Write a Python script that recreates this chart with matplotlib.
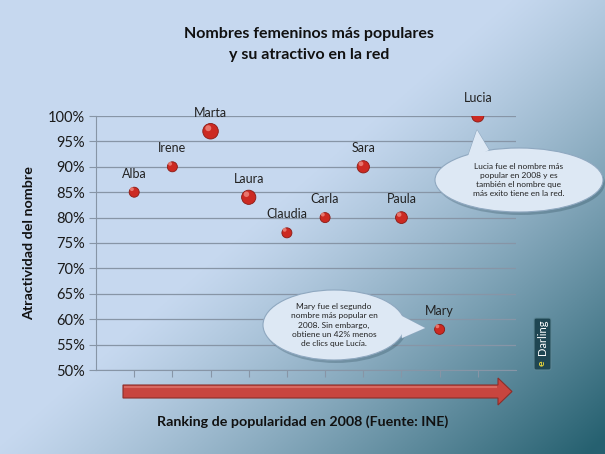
import numpy as np
import matplotlib
matplotlib.use("Agg")
import matplotlib.pyplot as plt
from matplotlib.patches import Ellipse, Polygon, FancyArrow, FancyBboxPatch
from matplotlib.ticker import PercentFormatter

plt.rcParams['font.family'] = ['Lato', 'DejaVu Sans']

# datos: ranking de popularidad 2008 y atractivo en la red
nombres = ['Alba', 'Irene', 'Marta', 'Laura', 'Claudia', 'Carla', 'Sara', 'Paula', 'Mary', 'Lucia']
ranking = [1, 2, 3, 4, 5, 6, 7, 8, 9, 10]
atractivo = [85, 90, 97, 84, 77, 80, 90, 80, 58, 100]
tamano = [52, 52, 125, 105, 52, 52, 78, 72, 52, 75]
yticks = [50, 55, 60, 65, 70, 75, 80, 85, 90, 95, 100]

W, H = 605, 454
fig = plt.figure(figsize=(W / 100, H / 100), dpi=100)

# fondo con degradado (claro arriba-izquierda, verde azulado abajo-derecha)
fondo = fig.add_axes([0, 0, 1, 1], zorder=0)
u, v = np.meshgrid(np.linspace(0, 1, 300), np.linspace(0, 1, 230))
t = np.clip((u * 0.72 + v * 0.62 - 0.6) / 0.72, 0, 1) ** 1.2
c0 = np.array([0.78, 0.85, 0.94])
c1 = np.array([0.15, 0.38, 0.44])
img = c0[None, None, :] * (1 - t[..., None]) + c1[None, None, :] * t[..., None]
fondo.imshow(img, extent=[0, 1, 0, 1], aspect='auto', origin='upper')
fondo.axis('off')

ax = fig.add_axes([96 / W, 1 - 370 / H, 420 / W, 254 / H], zorder=1)
ax.patch.set_alpha(0)
ax.set_xlim(0, 11)
ax.set_ylim(50, 100)
ax.set_yticks(yticks)
ax.yaxis.set_major_formatter(PercentFormatter(decimals=0))
ax.set_xticks(ranking)
ax.set_xticklabels([])
ax.grid(axis='y', color='#8795a6', lw=0.9)
ax.set_axisbelow(True)
for s in ['top', 'right']:
    ax.spines[s].set_visible(False)
for s in ['left', 'bottom']:
    ax.spines[s].set_color('#8795a6')
ax.tick_params(axis='y', length=5, color='#8795a6', labelsize=10.5, labelcolor='#1a1a1a', pad=3)
ax.tick_params(axis='x', length=5, color='#8795a6', direction='out')

ax.scatter(ranking, atractivo, s=tamano, color='#cc2a22', edgecolor='#8a1a14', lw=0.6, zorder=3)
ax.scatter(np.array(ranking) - 0.06, np.array(atractivo) + 0.6, s=np.array(tamano) * 0.15,
           color='#f08a80', lw=0, zorder=4, alpha=0.8)
for n, x, y in zip(nombres, ranking, atractivo):
    ax.annotate(n, (x, y), xytext=(0, 9), textcoords='offset points', ha='center', va='bottom',
                fontsize=9, color='#222222')

ax.set_ylabel('Atractividad del nombre', fontsize=10.3, fontweight='bold', color='#111111', labelpad=9)

# capa superior en pixeles para titulo, flecha, globos y logo
capa = fig.add_axes([0, 0, 1, 1], zorder=2)
capa.set_xlim(0, W)
capa.set_ylim(H, 0)
capa.axis('off')
capa.patch.set_alpha(0)

capa.text(309, 34, 'Nombres femeninos más populares', ha='center', va='center',
          fontsize=11.5, fontweight='bold', color='#111111')
capa.text(309, 55, 'y su atractivo en la red', ha='center', va='center',
          fontsize=11.5, fontweight='bold', color='#111111')
capa.text(303, 422, 'Ranking de popularidad en 2008 (Fuente: INE)', ha='center', va='center',
          fontsize=10.3, fontweight='bold', color='#111111')

capa.add_patch(FancyArrow(123, 391.5, 375, 0, width=13, head_width=27, head_length=14,
                          length_includes_head=False, fc='#c8453f', ec='#8c2e2a', lw=0.8))
capa.plot([125, 496], [387, 387], color='#e07a72', lw=1.5, alpha=0.7)


def globo(cx, cy, w, h, cola, lineas):
    capa.add_patch(Ellipse((cx + 2, cy + 3), w, h, fc='#1c3a48', ec='none', alpha=0.25))
    capa.add_patch(Polygon(cola, closed=True, fc='#dde8f4', ec='#8fa8c0', lw=0.8))
    capa.add_patch(Ellipse((cx, cy), w, h, fc='#dde8f4', ec='#8fa8c0', lw=0.8))
    capa.add_patch(Polygon(cola, closed=True, fc='#dde8f4', ec='none', lw=0))
    for i, l in enumerate(lineas):
        capa.text(cx, cy - (len(lineas) - 1) * 4.6 + i * 9.2, l, ha='center', va='center',
                  fontsize=6, color='#222222')


globo(519, 180, 168, 64, [(466, 162), (489, 150), (477, 130)],
      ['Lucia fue el nombre más', 'popular en 2008 y es',
       'también el nombre que', 'más exito tiene en la red.'])
globo(334, 325, 142, 70, [(400, 315), (402, 338), (425, 328)],
      ['Mary fue el segundo', 'nombre más popular en', '2008. Sin embargo,',
       'obtiene un 42% menos', 'de clics que Lucía.'])

capa.add_patch(FancyBboxPatch((534, 318), 17, 52, boxstyle='round,pad=0,rounding_size=2',
                              fc='#1f4652', ec='#5d8796', lw=0.8))
capa.text(542.5, 337, 'Darling', rotation=90, ha='center', va='center', fontsize=8, color='white')
capa.text(542.5, 363, 'e', rotation=90, ha='center', va='center', fontsize=7.5, color='#e8d43a',
          fontweight='bold')

fig.savefig('out.png', dpi=100)
